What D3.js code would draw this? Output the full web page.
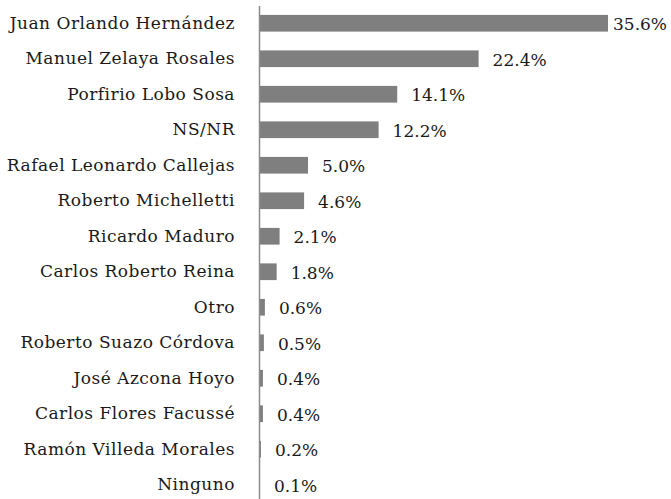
<!DOCTYPE html>
<html>
<head>
<meta charset="utf-8">
<script src="https://cdn.jsdelivr.net/npm/d3@7"></script>
<style>
  body { margin: 0; background: #fff; }
  text { font-family: "DejaVu Serif", serif; fill: #1a1a1a; }
</style>
</head>
<body>
<div id="chart"></div>
<script>
// candidates and shares (%)
var names = ["Juan Orlando Hernández", "Manuel Zelaya Rosales", "Porfirio Lobo Sosa", "NS/NR",
  "Rafael Leonardo Callejas", "Roberto Michelletti", "Ricardo Maduro", "Carlos Roberto Reina",
  "Otro", "Roberto Suazo Córdova", "José Azcona Hoyo", "Carlos Flores Facussé",
  "Ramón Villeda Morales", "Ninguno"];
var shares = [35.6, 22.4, 14.1, 12.2, 5.0, 4.6, 2.1, 1.8, 0.6, 0.5, 0.4, 0.4, 0.2, 0.1];

var data = names.map(function(n, i) { return {name: n, value: shares[i]}; });

var svgWidth = 671, svgHeight = 499;
var margin = {top: 5.5, left: 259};

var svg = d3.select("#chart").append("svg")
  .attr("width", svgWidth)
  .attr("height", svgHeight);

var x = d3.scaleLinear().domain([0, 35.6]).range([0, 349]);
var y = d3.scaleBand().domain(names).range([0, 497]).paddingInner(0.53).paddingOuter(0.265);

var g = svg.append("g")
  .attr("transform", `translate(${margin.left}, ${margin.top})`);

// bars
g.selectAll("rect")
  .data(data)
  .enter()
  .append("rect")
  .attr("x", 0)
  .attr("y", d => y(d.name))
  .attr("width", d => x(d.value))
  .attr("height", y.bandwidth())
  .attr("fill", "#7f7f7f");

// category axis
var leftAxis = d3.axisLeft(y).tickSize(0).tickPadding(24);
var ax = g.append("g").call(leftAxis);
ax.attr("font-family", null);
ax.select(".domain").attr("stroke", "#8c8c8c").attr("stroke-width", 1.5);
ax.selectAll("text")
  .style("font-size", "17px")
  .style("letter-spacing", "0.5px")
  .style("font-family", "'DejaVu Serif', serif")
  .attr("fill", "#1a1a1a");

// value labels (the longest one is pulled in so it stays inside the page)
var labelEnd = svgWidth - 4 - margin.left;
g.selectAll(".val")
  .data(data)
  .enter()
  .append("text")
  .attr("class", "val")
  .attr("x", d => Math.min(x(d.value) + 14, labelEnd - 54))
  .attr("y", d => y(d.name) + y.bandwidth() / 2)
  .attr("dy", "0.4em")
  .style("font-size", "17px")
  .text(d => d.value.toFixed(1) + "%");
</script>
</body>
</html>
